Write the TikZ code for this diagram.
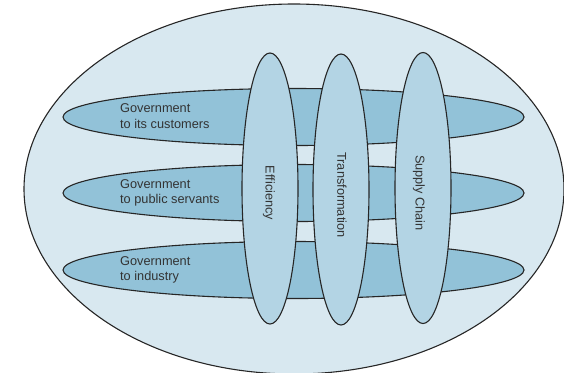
\documentclass[tikz,border=0pt]{standalone}
\usepackage{fontspec}
\setsansfont{Liberation Sans}
\usetikzlibrary{shapes.geometric}

\definecolor{outerblue}{RGB}{216,232,240}
\definecolor{bandblue}{RGB}{146,194,216}
\definecolor{pillarblue}{RGB}{179,212,228}
\definecolor{textgray}{RGB}{51,51,51}

\tikzset{
    band/.style={ellipse, draw=black!85, fill=bandblue, line width=1.1bp, inner sep=0pt, minimum width=461bp, minimum height=57bp},
    pillar/.style={ellipse, draw=black!85, fill=pillarblue, line width=1.1bp, inner sep=0pt, minimum width=56bp, minimum height=271bp},
    lbl/.style={font=\sffamily\fontsize{12.8}{15.5}\selectfont, text=textgray, align=left, anchor=west, inner sep=0pt},
    vlbl/.style={font=\sffamily\fontsize{12.8}{15}\selectfont, text=textgray, rotate=-90, inner sep=0pt}
}

\begin{document}
\begin{tikzpicture}[x=1bp, y=-1bp]
        \useasboundingbox (0,0) rectangle (564,372);
        \clip (0,0) rectangle (564,372);
        \node[ellipse, draw=black!85, fill=outerblue, line width=1.1bp, inner sep=0pt, minimum width=540bp, minimum height=370bp] (world) at (294,189) {};
        % the three bands
        \node[band] (customers) at (293.5,117) {};
        \node[band] (servants) at (293.5,193) {};
        \node[band] (industry) at (293.5,270) {};
        \node[lbl] at (120,116) {Government\\to its customers};
        \node[lbl] at (120,193) {Government\\to public servants};
        \node[lbl] at (120,270) {Government\\to industry};
        % the three pillars
        \node[pillar] (efficiency) at (270,188.5) {};
        \node[pillar] (transformation) at (341,189.5) {};
        \node[pillar] (supply) at (423,188) {};
        \node[vlbl] at (269,193) {Efficiency};
        \node[vlbl] at (342,195) {Transformation};
        \node[vlbl] at (419,193) {Supply Chain};
    \end{tikzpicture}
\end{document}
